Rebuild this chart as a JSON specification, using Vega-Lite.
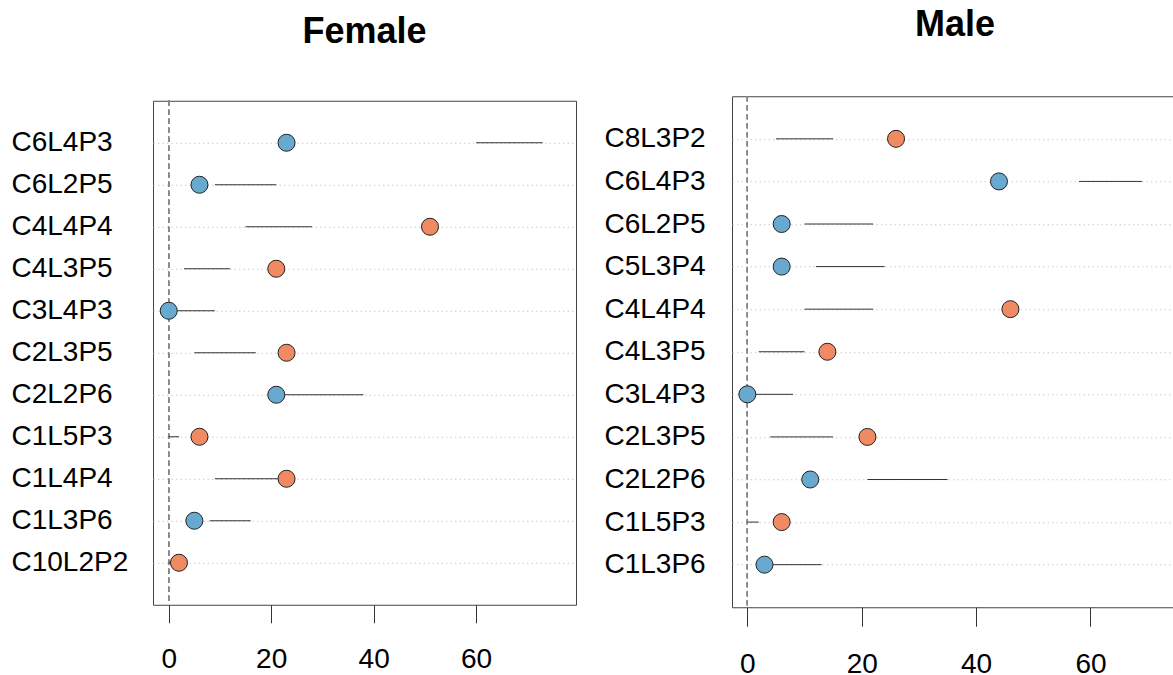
{
  "$schema": "https://vega.github.io/schema/vega-lite/v6.json",
  "padding": {"left": 10, "top": 6, "right": 0, "bottom": 0},
  "background": "white",
  "config": {
    "font": "Liberation Sans",
    "view": {"stroke": "#444", "strokeWidth": 1},
    "axis": {"labelFont": "Liberation Sans", "labelColor": "black", "labelFontSize": 28, "title": null}
  },
  "datasets": {
    "female": [
      {"label": "C6L4P3", "est": 23, "lo": 60, "hi": 73, "status": "Below"},
      {"label": "C6L2P5", "est": 6, "lo": 9, "hi": 21, "status": "Below"},
      {"label": "C4L4P4", "est": 51, "lo": 15, "hi": 28, "status": "Above"},
      {"label": "C4L3P5", "est": 21, "lo": 3, "hi": 12, "status": "Above"},
      {"label": "C3L4P3", "est": 0, "lo": 0, "hi": 9, "status": "Below"},
      {"label": "C2L3P5", "est": 23, "lo": 5, "hi": 17, "status": "Above"},
      {"label": "C2L2P6", "est": 21, "lo": 21, "hi": 38, "status": "Below"},
      {"label": "C1L5P3", "est": 6, "lo": 0, "hi": 2, "status": "Above"},
      {"label": "C1L4P4", "est": 23, "lo": 9, "hi": 23, "status": "Above"},
      {"label": "C1L3P6", "est": 5, "lo": 8, "hi": 16, "status": "Below"},
      {"label": "C10L2P2", "est": 2, "lo": 0, "hi": 1, "status": "Above"}
    ],
    "male": [
      {"label": "C8L3P2", "est": 26, "lo": 5, "hi": 15, "status": "Above"},
      {"label": "C6L4P3", "est": 44, "lo": 58, "hi": 69, "status": "Below"},
      {"label": "C6L2P5", "est": 6, "lo": 10, "hi": 22, "status": "Below"},
      {"label": "C5L3P4", "est": 6, "lo": 12, "hi": 24, "status": "Below"},
      {"label": "C4L4P4", "est": 46, "lo": 10, "hi": 22, "status": "Above"},
      {"label": "C4L3P5", "est": 14, "lo": 2, "hi": 10, "status": "Above"},
      {"label": "C3L4P3", "est": 0, "lo": 0, "hi": 8, "status": "Below"},
      {"label": "C2L3P5", "est": 21, "lo": 4, "hi": 15, "status": "Above"},
      {"label": "C2L2P6", "est": 11, "lo": 21, "hi": 35, "status": "Below"},
      {"label": "C1L5P3", "est": 6, "lo": 0, "hi": 2, "status": "Above"},
      {"label": "C1L3P6", "est": 3, "lo": 3, "hi": 13, "status": "Below"}
    ]
  },
  "center": true,
  "spacing": 26,
  "hconcat": [
    {
      "title": {"text": "Female", "fontSize": 36, "fontWeight": "bold", "font": "Liberation Sans", "anchor": "middle", "frame": "group", "baseline": "alphabetic", "offset": 21, "color": "black"},
      "width": 423,
      "height": 504,
      "data": {"name": "female"},
      "encoding": {
        "y": {"field": "label", "type": "nominal", "sort": "descending",
              "scale": {"type": "point", "padding": 1},
              "axis": {"ticks": false, "domain": false, "labelAlign": "left", "labelBaseline": "middle", "labelPadding": 142,
                       "grid": true, "gridColor": "#cccccc", "gridDash": [1.5, 3], "gridWidth": 1}}
      },
      "layer": [
        {
          "mark": {"type": "rule", "color": "#888888", "strokeDash": [5, 4], "strokeWidth": 1},
          "encoding": {"x": {"datum": 0}, "y": null}
        },
        {
          "mark": {"type": "rule", "color": "#333333", "strokeWidth": 1},
          "encoding": {
            "x": {"field": "lo", "type": "quantitative",
                  "scale": {"domain": [-3.07, 79.5], "nice": false, "zero": false},
                  "axis": {"values": [0, 20, 40, 60], "tickSize": 18, "tickColor": "#333", "domain": false, "grid": false, "labelPadding": 23, "labelBaseline": "top"}},
            "x2": {"field": "hi"}
          }
        },
        {
          "mark": {"type": "point", "shape": "circle", "filled": true, "size": 290, "stroke": "#222222", "strokeWidth": 1, "opacity": 1},
          "encoding": {
            "x": {"field": "est", "type": "quantitative"},
            "fill": {"field": "status", "type": "nominal", "scale": {"domain": ["Above", "Below"], "range": ["#ef8a62", "#67a9cf"]}, "legend": null}
          }
        }
      ]
    },
    {
      "title": {"text": "Male", "fontSize": 36, "fontWeight": "bold", "font": "Liberation Sans", "anchor": "middle", "frame": "group", "baseline": "alphabetic", "offset": 24, "color": "black"},
      "width": 446,
      "height": 511,
      "data": {"name": "male"},
      "encoding": {
        "y": {"field": "label", "type": "nominal", "sort": "descending",
              "scale": {"type": "point", "padding": 1},
              "axis": {"ticks": false, "domain": false, "labelAlign": "left", "labelBaseline": "middle", "labelPadding": 128,
                       "grid": true, "gridColor": "#cccccc", "gridDash": [1.5, 3], "gridWidth": 1}}
      },
      "layer": [
        {
          "mark": {"type": "rule", "color": "#888888", "strokeDash": [5, 4], "strokeWidth": 1},
          "encoding": {"x": {"datum": 0}, "y": null}
        },
        {
          "mark": {"type": "rule", "color": "#333333", "strokeWidth": 1},
          "encoding": {
            "x": {"field": "lo", "type": "quantitative",
                  "scale": {"domain": [-2.68, 75.3], "nice": false, "zero": false},
                  "axis": {"values": [0, 20, 40, 60], "tickSize": 19, "tickColor": "#333", "domain": false, "grid": false, "labelPadding": 24, "labelBaseline": "top"}},
            "x2": {"field": "hi"}
          }
        },
        {
          "mark": {"type": "point", "shape": "circle", "filled": true, "size": 290, "stroke": "#222222", "strokeWidth": 1, "opacity": 1},
          "encoding": {
            "x": {"field": "est", "type": "quantitative"},
            "fill": {"field": "status", "type": "nominal", "scale": {"domain": ["Above", "Below"], "range": ["#ef8a62", "#67a9cf"]}, "legend": null}
          }
        }
      ]
    }
  ]
}
